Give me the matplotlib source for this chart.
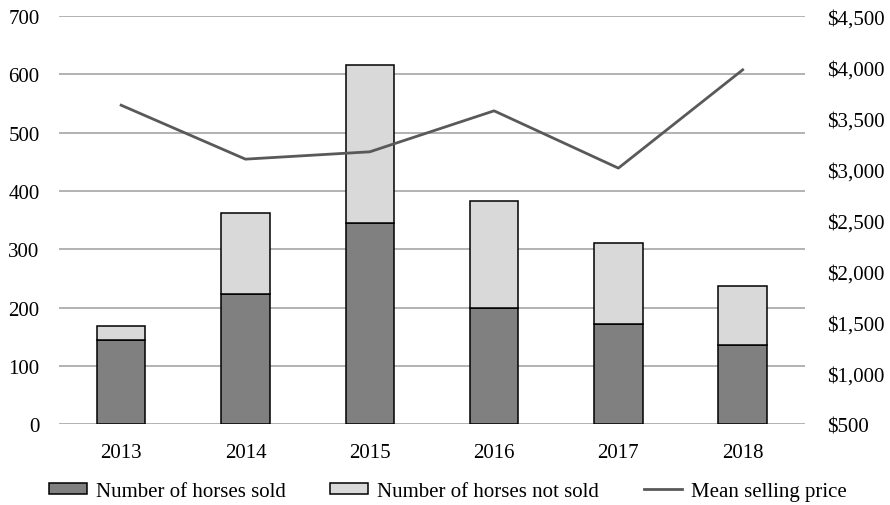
import matplotlib.pyplot as plt
import numpy as np

years = ['2013', '2014', '2015', '2016', '2017', '2018']
sold = [144, 223, 345, 199, 172, 136]
not_sold = [25, 140, 271, 184, 139, 101]
mean_price = [3627, 3098, 3170, 3572, 3010, 3974]

left_ticks = [0, 100, 200, 300, 400, 500, 600, 700]
right_ticks = [500, 1000, 1500, 2000, 2500, 3000, 3500, 4000, 4500]

plt.rcParams['font.family'] = ['Liberation Serif', 'DejaVu Serif']
plt.rcParams['font.size'] = 15

fig = plt.figure(figsize=(8.9, 5.06), dpi=100)
ax = fig.add_axes([0.0663, 0.160, 0.838, 0.806])
x = np.arange(len(years))

# gridlines behind everything
ax.set_axisbelow(True)
ax.yaxis.grid(True, color='#a6a6a6', linewidth=1.2)

b1 = ax.bar(x, sold, width=0.39, color='#808080', edgecolor='black', linewidth=1.1,
            label='Number of horses sold', zorder=2)
b2 = ax.bar(x, not_sold, width=0.39, bottom=sold, color='#d9d9d9', edgecolor='black',
            linewidth=1.1, label='Number of horses not sold', zorder=2)

ax.set_xlim(-0.5, len(years) - 0.5)
ax.set_ylim(0, 700)
ax.set_yticks(left_ticks)
ax.set_xticks(x)
ax.set_xticklabels(years)
ax.tick_params(axis='x', length=0, pad=14)
ax.tick_params(axis='y', length=0, pad=14)
for s in ax.spines.values():
    s.set_visible(False)

ax2 = ax.twinx()
ln, = ax2.plot(x, mean_price, color='#595959', linewidth=2, label='Mean selling price')
ax2.set_ylim(500, 4500)
ax2.set_yticks(right_ticks)
ax2.set_yticklabels(['${:,}'.format(v) for v in right_ticks])
ax2.tick_params(length=0, pad=16)
for s in ax2.spines.values():
    s.set_visible(False)

fig.legend(handles=[b1, b2, ln], loc='center', bbox_to_anchor=(0.503, 0.027), ncol=3,
           frameon=False, handlelength=1.83, handleheight=0.45, columnspacing=2.15,
           handletextpad=0.42, borderpad=0, borderaxespad=0)

fig.savefig('out.png', dpi=100)
